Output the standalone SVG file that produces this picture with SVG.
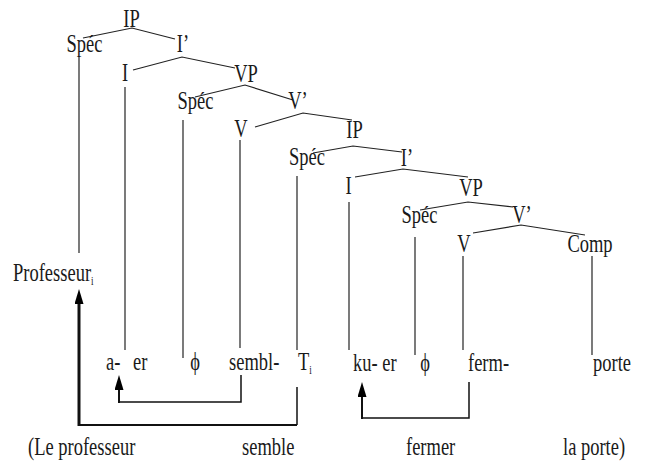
<svg xmlns="http://www.w3.org/2000/svg" width="645" height="463" viewBox="0 0 645 463">
<defs>
<style>
text{font-family:"Liberation Serif","Times New Roman",serif;font-size:18.5px;fill:#1a1a1a}
.m{text-anchor:middle}
.sub{font-size:9px}
.t{stroke:#222;stroke-width:1.2;fill:none}
.a{stroke:#111;fill:none}
</style>
<marker id="ah" markerUnits="userSpaceOnUse" markerWidth="16" markerHeight="10" refX="0" refY="4.5" orient="auto">
<path d="M0,0 L15,4.5 L0,9 z" fill="#000"/>
</marker>
</defs>
<rect width="645" height="463" fill="#fff"/>
<g id="connectors">
<path class="t" d="M83,38 L132,28 L175,39"/>
<path class="t" d="M133,70 L182,57 L235,68"/>
<path class="t" d="M195,97 L245,85 L293,100"/>
<path class="t" d="M255,127 L303,113 L352,120"/>
<path class="t" d="M313,153 L353,146 L402,152"/>
<path class="t" d="M355,177 L403,169 L468,177"/>
<path class="t" d="M420,210 L468,202 L513,207"/>
<path class="t" d="M473,233 L521,225 L585,235"/>
<path class="t" d="M79,56 V253"/>
<path class="t" d="M125,87 V350"/>
<path class="t" d="M183,120 V358"/>
<path class="t" d="M240,140 V348"/>
<path class="t" d="M297,176 V350"/>
<path class="t" d="M349,202 V350"/>
<path class="t" d="M415,237 V355"/>
<path class="t" d="M463,256 V350"/>
<path class="t" d="M592,256 V355"/>
<path class="a" stroke-width="1.5" d="M297,387 V425"/>
<path class="a" stroke-width="2" d="M297,425 H79"/>
<path class="a" stroke-width="3" d="M79,426 V304" marker-end="url(#ah)"/>
<path class="a" stroke-width="1.5" d="M241,375 V402 H119"/>
<path class="a" stroke-width="2" d="M119,403 V390" marker-end="url(#ah)"/>
<path class="a" stroke-width="1.5" d="M469,382 V418 H362"/>
<path class="a" stroke-width="2" d="M362,419 V397" marker-end="url(#ah)"/>
</g>
<g id="IP1"><text class="m" transform="translate(131.5,27) scale(1,1.35)">IP</text></g>
<g id="Spec1"><text class="m" transform="translate(84.5,52) scale(1,1.35)">Spéc</text></g>
<g id="Ibar1"><text class="m" transform="translate(183,52) scale(1,1.35)">I’</text></g>
<g id="I1"><text class="m" transform="translate(125,81) scale(1,1.35)">I</text></g>
<g id="VP1"><text class="m" transform="translate(246,82) scale(1,1.35)">VP</text></g>
<g id="Spec2"><text class="m" transform="translate(195.5,109) scale(1,1.35)">Spéc</text></g>
<g id="Vbar1"><text class="m" transform="translate(298,109) scale(1,1.35)">V’</text></g>
<g id="V1"><text class="m" transform="translate(241,137) scale(1,1.35)">V</text></g>
<g id="IP2"><text class="m" transform="translate(354.5,138) scale(1,1.35)">IP</text></g>
<g id="Spec3"><text class="m" transform="translate(307,165) scale(1,1.35)">Spéc</text></g>
<g id="Ibar2"><text class="m" transform="translate(407,166) scale(1,1.35)">I’</text></g>
<g id="I2"><text class="m" transform="translate(348.5,194) scale(1,1.35)">I</text></g>
<g id="VP2"><text class="m" transform="translate(471,196) scale(1,1.35)">VP</text></g>
<g id="Spec4"><text class="m" transform="translate(419.5,223) scale(1,1.35)">Spéc</text></g>
<g id="Vbar2"><text class="m" transform="translate(522,223) scale(1,1.35)">V’</text></g>
<g id="V2"><text class="m" transform="translate(464,252) scale(1,1.35)">V</text></g>
<g id="Comp"><text class="m" transform="translate(590,252) scale(1,1.35)">Comp</text></g>
<g id="Professeur"><text transform="translate(13,281) scale(1,1.35)">Professeur<tspan class="sub" dy="3">i</tspan></text></g>
<g id="words">
<text transform="translate(106,370) scale(1,1.35)">a-</text>
<text transform="translate(133,370) scale(1,1.35)">er</text>
<text class="m" transform="translate(195,370) scale(1,1.35)">ϕ</text>
<text transform="translate(229,370) scale(1,1.35)">sembl-</text>
<text transform="translate(298,370) scale(1,1.35)">T<tspan class="sub" dy="3">i</tspan></text>
<text transform="translate(353,371) scale(1,1.35)">ku- er</text>
<text class="m" transform="translate(425,371) scale(1,1.35)">ϕ</text>
<text transform="translate(468,371) scale(1,1.35)">ferm-</text>
<text transform="translate(593,371) scale(1,1.35)">porte</text>
</g>
<g id="gloss">
<text transform="translate(28,455) scale(1,1.35)">(Le professeur</text>
<text transform="translate(242,455) scale(1,1.35)">semble</text>
<text transform="translate(406,455) scale(1,1.35)">fermer</text>
<text transform="translate(563,455) scale(1,1.35)">la porte)</text>
</g>
</svg>
